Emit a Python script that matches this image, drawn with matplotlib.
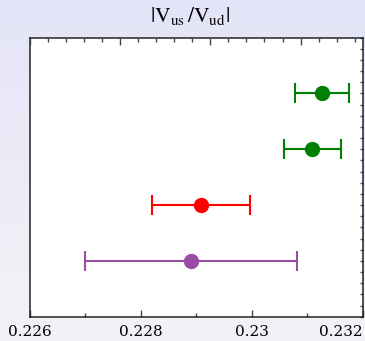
import numpy as np
import matplotlib
matplotlib.use("Agg")
import matplotlib.pyplot as plt
from matplotlib.ticker import MultipleLocator, FixedLocator, NullFormatter
from matplotlib.colors import LinearSegmentedColormap

plt.rcParams['mathtext.fontset'] = 'stix'

# data (bottom to top)
values = [0.22891, 0.22909, 0.23109, 0.23127]
errors = [0.00191, 0.00088, 0.00051, 0.00049]
colors = ['#984ea3', '#ff0000', '#008000', '#008000']
positions = [1, 2, 3, 4]
xtick_vals = [0.226, 0.228, 0.230, 0.232]
xtick_labels = ['0.226', '0.228', '0.23', '0.232']
title = r'$|\mathrm{V}_{\mathrm{us}}\,/\mathrm{V}_{\mathrm{ud}}|$'

W, H = 365, 341
fig = plt.figure(figsize=(W / 100, H / 100), dpi=100)

# gradient background
bg = fig.add_axes([0, 0, 1, 1])
grad = np.linspace(0, 1, 256).reshape(-1, 1)
cmap = LinearSegmentedColormap.from_list('bg', ['#e4e4f9', '#f3f3f6'])
bg.imshow(grad, aspect='auto', cmap=cmap, extent=[0, 1, 0, 1], origin='upper')
bg.axis('off')

ax = fig.add_axes([29.7 / W, 24.3 / H, 333 / W, 279 / H])
ax.set_facecolor('white')
for v, e, c, p in zip(values, errors, colors, positions):
    ax.errorbar(v, p, xerr=e, fmt='o', color=c, ecolor=c, markersize=10,
                elinewidth=1.5, capsize=7, capthick=1.5, zorder=3)

ax.set_xlim(0.226, 0.232)
ax.set_ylim(0, 5)
ax.xaxis.set_major_locator(FixedLocator(xtick_vals))
ax.set_xticklabels(xtick_labels, fontfamily='DejaVu Serif', fontsize=11)
ax.xaxis.set_minor_locator(MultipleLocator(0.001))
ax.tick_params(axis='x', which='major', direction='in', length=5, width=1,
               color='#444444', pad=6, top=False, bottom=True)
ax.tick_params(axis='x', which='minor', direction='in', length=3, width=1,
               color='#444444', top=False, bottom=True)
labs = ax.get_xticklabels()
labs[-1].set_horizontalalignment('right')

ax.yaxis.set_major_locator(MultipleLocator(0.2))
ax.yaxis.set_major_formatter(NullFormatter())
ax.tick_params(axis='y', which='both', direction='in', length=2, width=1,
               color='#555555', left=False, right=True, labelleft=False)

for s in ax.spines.values():
    s.set_color('#222222')
    s.set_linewidth(1.1)

# top axis ticks (unlabelled secondary scale)
axt = ax.twiny()
axt.set_xlim(0, 333 / 90.3)
axt.xaxis.set_major_locator(MultipleLocator(1))
axt.xaxis.set_minor_locator(MultipleLocator(0.2))
axt.xaxis.set_major_formatter(NullFormatter())
axt.tick_params(axis='x', which='major', direction='in', length=5, width=1, color='#444444')
axt.tick_params(axis='x', which='minor', direction='in', length=3, width=1, color='#444444')
for s in axt.spines.values():
    s.set_visible(False)

fig.text(190 / W, 1 - 16 / H, title, ha='center', va='center', fontsize=15.5)

fig.savefig('out.png', dpi=100)
